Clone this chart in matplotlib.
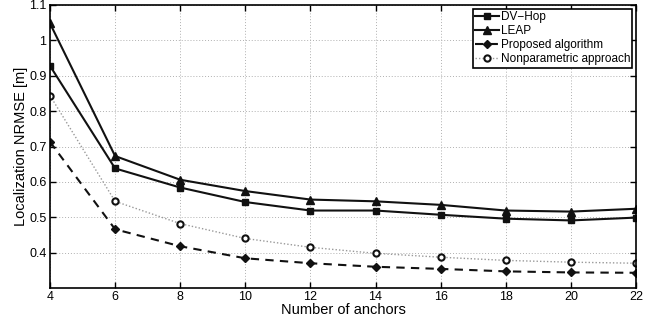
import matplotlib
matplotlib.use('Agg')
import matplotlib.pyplot as plt

plt.rcParams['font.family'] = ['Liberation Sans', 'DejaVu Sans']

# anchors vs. localization NRMSE
anchors = [4, 6, 8, 10, 12, 14, 16, 18, 20, 22]
dv_hop = [0.928, 0.638, 0.584, 0.543, 0.519, 0.519, 0.507, 0.496, 0.491, 0.499]
leap = [1.048, 0.673, 0.606, 0.574, 0.550, 0.545, 0.535, 0.519, 0.516, 0.524]
proposed = [0.713, 0.466, 0.418, 0.384, 0.370, 0.360, 0.354, 0.347, 0.344, 0.343]
nonparam = [0.844, 0.545, 0.482, 0.440, 0.415, 0.398, 0.387, 0.378, 0.373, 0.370]

fig = plt.figure(figsize=(6.65, 3.24), dpi=100)
ax = fig.add_axes([50 / 665, 1 - 288 / 324, 586 / 665, 283 / 324])

ax.plot(anchors, dv_hop, '-s', color='#111111', lw=1.5, ms=5, label='DV\u2212Hop')
ax.plot(anchors, leap, '-^', color='#111111', lw=1.5, ms=6, label='LEAP')
ax.plot(anchors, proposed, '--D', color='#111111', lw=1.5, ms=4,
        dashes=(4, 3), label='Proposed algorithm')
ax.plot(anchors, nonparam, color='#999999', lw=1.0, ls=(0, (1, 1.5)),
        marker='o', ms=4.5, mfc='white', mec='#111111', mew=1.5,
        label='Nonparametric approach')

ax.set_xlim(4, 22)
ax.set_ylim(0.3, 1.1)
ax.set_xticks(range(4, 23, 2))
ax.set_yticks([0.4, 0.5, 0.6, 0.7, 0.8, 0.9, 1.0, 1.1])
ax.set_yticklabels(['0.4', '0.5', '0.6', '0.7', '0.8', '0.9', '1', '1.1'])
ax.tick_params(direction='in', top=True, right=True, labelsize=9, length=4,
               width=1, pad=2.5)
ax.grid(True, linestyle=(0, (1, 2)), color='#b0b0b0', lw=0.7)
for sp in ax.spines.values():
    sp.set_linewidth(1.2)

ax.set_xlabel('Number of anchors', fontsize=10.5, labelpad=0)
ax.set_ylabel('Localization NRMSE [m]', fontsize=10.5, labelpad=1)

leg = ax.legend(loc='upper right', fontsize=8.5, frameon=True, fancybox=False,
                edgecolor='black', framealpha=1, borderpad=0.2,
                labelspacing=0.18, handlelength=2.0, handletextpad=0.15,
                borderaxespad=0.3)
leg.get_frame().set_linewidth(1.2)

fig.savefig('out.png', dpi=100)
